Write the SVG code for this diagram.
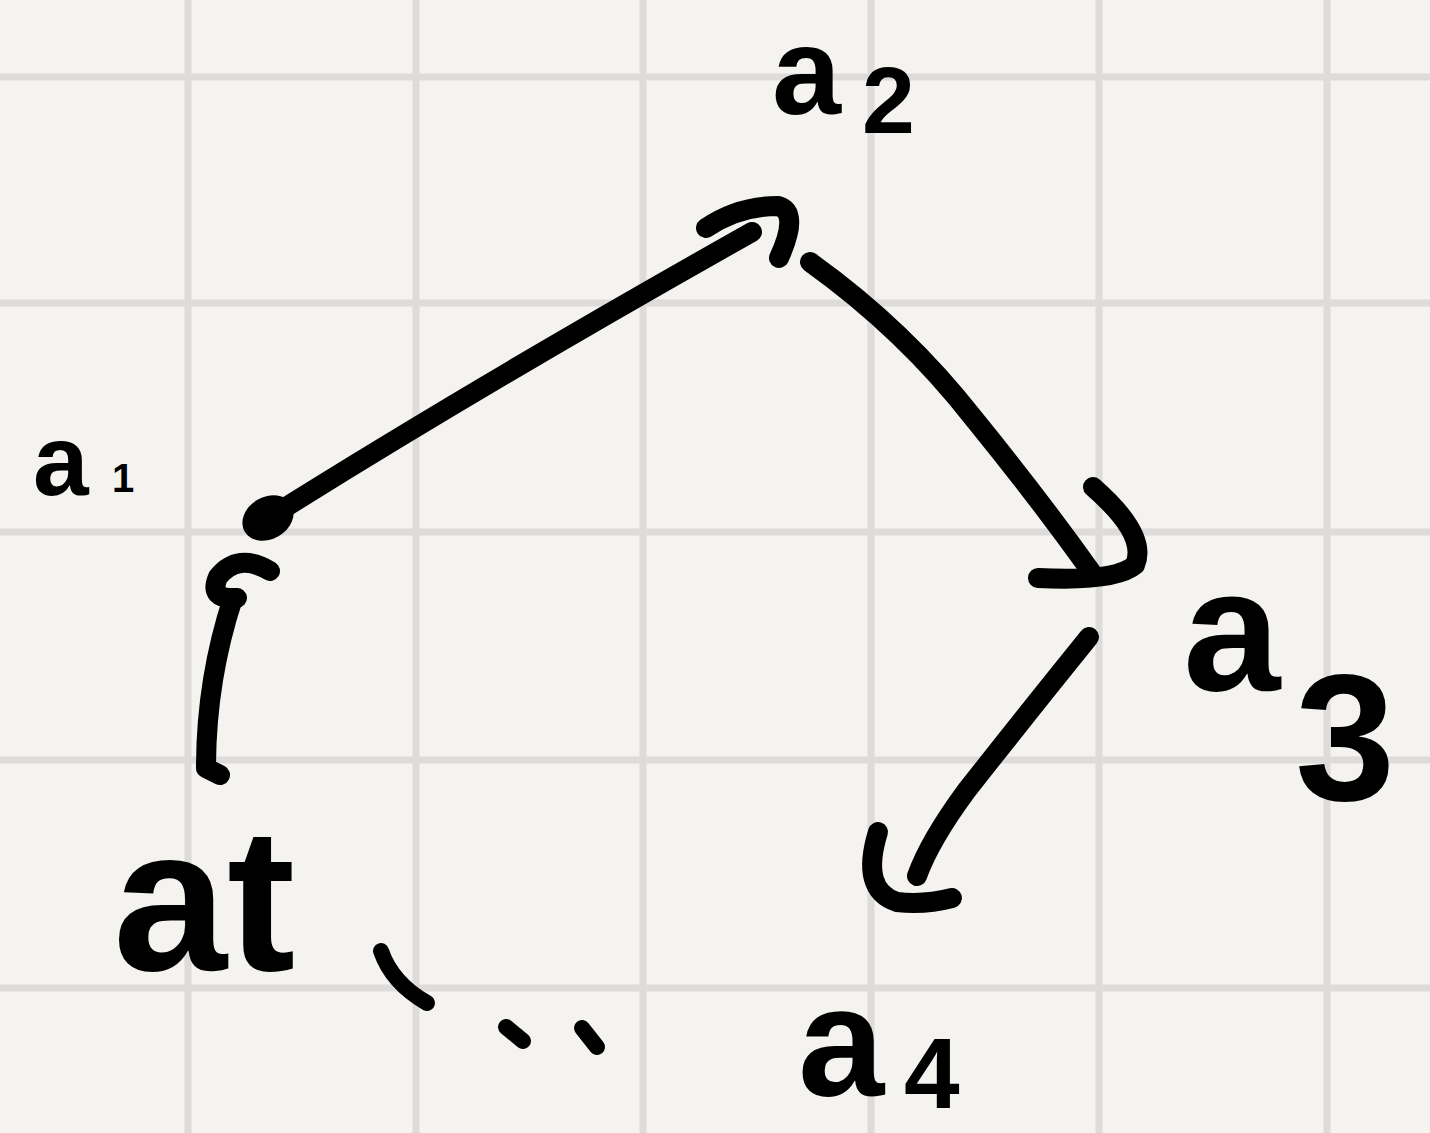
<svg xmlns="http://www.w3.org/2000/svg" width="1430" height="1133" viewBox="0 0 1430 1133">
<style>
.grid line{stroke:#dddcda;stroke-width:7}
.ink{fill:none;stroke:#000;stroke-width:20;stroke-linecap:round;stroke-linejoin:round}
.dot{fill:none;stroke:#000;stroke-width:16;stroke-linecap:round}
.lbl{font-family:"Liberation Sans",Arial,sans-serif;font-weight:700;fill:#000}
</style>
<rect width="1430" height="1133" fill="#f4f3f0"/>
<g class="grid">
<line x1="188" y1="0" x2="188" y2="1133"/>
<line x1="416" y1="0" x2="416" y2="1133"/>
<line x1="643" y1="0" x2="643" y2="1133"/>
<line x1="871" y1="0" x2="871" y2="1133"/>
<line x1="1099" y1="0" x2="1099" y2="1133"/>
<line x1="1327" y1="0" x2="1327" y2="1133"/>
<line x1="0" y1="77" x2="1430" y2="77"/>
<line x1="0" y1="303" x2="1430" y2="303"/>
<line x1="0" y1="532" x2="1430" y2="532"/>
<line x1="0" y1="760" x2="1430" y2="760"/>
<line x1="0" y1="988" x2="1430" y2="988"/>
</g>
<g id="connectors">
<path class="ink" d="M220,775 L206,768 Q206,680 233,598"/>
<path class="ink" d="M237,598 Q208,600 218,577 Q238,552 270,571"/>
<ellipse cx="268" cy="518" rx="27" ry="21" transform="rotate(-30 268 518)" fill="#000"/>
<path class="ink" d="M262,522 Q480,385 752,232"/>
<path class="ink" d="M706,228 Q738,206 778,206 Q800,212 779,258"/>
<path class="ink" d="M810,262 Q905,330 975,420 Q1040,500 1092,573"/>
<path class="ink" d="M1093,487 Q1148,535 1135,565 Q1115,582 1038,578"/>
<path class="ink" d="M1089,637 Q1030,710 967,790 Q930,840 917,876"/>
<path class="ink" d="M878,832 Q860,890 897,902 Q925,905 952,898"/>
<path class="dot" d="M381,951 Q392,983 427,1003"/>
<path class="dot" d="M506,1027 L523,1041"/>
<path class="dot" d="M582,1028 L597,1047"/>
</g>
<g id="node-a1"><text class="lbl"><tspan x="33" y="495" font-size="100">a</tspan><tspan x="112" y="492" font-size="40">1</tspan></text></g>
<g id="node-a2"><text class="lbl"><tspan x="772" y="114" font-size="124">a</tspan><tspan x="862" y="133" font-size="95">2</tspan></text></g>
<g id="node-a3"><text class="lbl"><tspan x="1183" y="690" font-size="175">a</tspan><tspan x="1295" y="800" font-size="180">3</tspan></text></g>
<g id="node-a4"><text class="lbl"><tspan x="798" y="1095" font-size="155">a</tspan><tspan x="904" y="1108" font-size="100">4</tspan></text></g>
<g id="node-at"><text class="lbl" x="113" y="970" font-size="205">at</text></g>
</svg>
